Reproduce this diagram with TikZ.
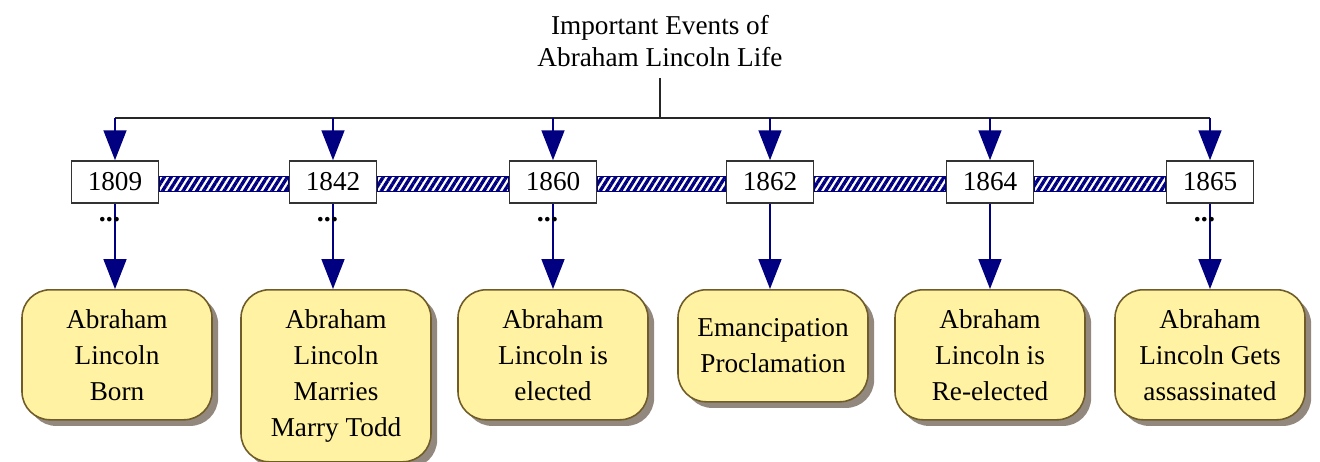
\documentclass[tikz,border=0pt]{standalone}
\usepackage{fontspec}
\setmainfont{Liberation Serif}
\usepackage{xcolor}
\usepackage{tikz}
\usetikzlibrary{arrows.meta,positioning,calc,shadows,patterns.meta}

\definecolor{linknavy}{RGB}{0,0,128}
\definecolor{eventfill}{RGB}{255,242,162}
\definecolor{eventedge}{RGB}{112,92,40}

\begin{document}
\begin{tikzpicture}[
        font=\fontsize{15.5}{20.5}\selectfont,
        yearbox/.style={draw=black!80, fill=white, line width=0.9pt,
            minimum width=1.74cm, minimum height=0.84cm, inner sep=0pt},
        eventbox/.style={draw=eventedge, fill=eventfill, line width=0.9pt,
            rounded corners=16pt, minimum width=3.8cm, anchor=north,
            align=center, inner sep=0pt,
            drop shadow={shadow xshift=3.5pt, shadow yshift=-3.5pt, fill=black!70!brown, opacity=0.55}},
        arr/.style={draw=linknavy, line width=1.1pt, -{Triangle[width=13pt,length=17pt]}},
        hatchbar/.style={draw=linknavy, line width=0.6pt,
            pattern={Lines[angle=58,distance=3.3pt,line width=1.9pt]}, pattern color=linknavy},
        dots/.style={font=\fontsize{16}{20.5}\selectfont\bfseries, anchor=base, inner sep=0pt}
    ]
        \useasboundingbox (0,0) rectangle (26.4,-9.24);

        % Title and bus line
        \node[align=center, font=\fontsize{15.5}{18.5}\selectfont] (title) at (13.2,-0.82)
            {Important Events of\\Abraham Lincoln Life};
        \coordinate (bus) at (13.2,-2.36);
        \coordinate (b1) at (2.30,-2.36);
        \coordinate (b2) at (6.66,-2.36);
        \coordinate (b3) at (11.06,-2.36);
        \coordinate (b4) at (15.40,-2.36);
        \coordinate (b5) at (19.80,-2.36);
        \coordinate (b6) at (24.20,-2.36);
        \draw[black!85, line width=1pt] (title.south |- 0,-1.56) -- (bus);
        \draw[black!85, line width=1pt] (b1) -- (b6);

        % Years
        \node[yearbox] (y1) at (2.30,-3.64) {1809};
        \node[yearbox] (y2) at (6.66,-3.64) {1842};
        \node[yearbox] (y3) at (11.06,-3.64) {1860};
        \node[yearbox] (y4) at (15.40,-3.64) {1862};
        \node[yearbox] (y5) at (19.80,-3.64) {1864};
        \node[yearbox] (y6) at (24.20,-3.64) {1865};

        % Hatched time bar
        \foreach \a/\b in {y1/y2,y2/y3,y3/y4,y4/y5,y5/y6}
            \draw[hatchbar] ($(\a.east)+(0,0.11)$) rectangle ($(\b.west)+(0,-0.19)$);

        % Events
        \node[eventbox, minimum height=2.6cm] (e1) at (2.34,-5.78) {Abraham\\Lincoln\\Born};
        \node[eventbox, minimum height=3.44cm] (e2) at (6.72,-5.78) {Abraham\\Lincoln\\Marries\\Marry Todd};
        \node[eventbox, minimum height=2.6cm] (e3) at (11.06,-5.78) {Abraham\\Lincoln is\\elected};
        \node[eventbox, minimum height=2.24cm] (e4) at (15.46,-5.78) {Emancipation\\Proclamation};
        \node[eventbox, minimum height=2.6cm] (e5) at (19.80,-5.78) {Abraham\\Lincoln is\\Re-elected};
        \node[eventbox, minimum height=2.6cm] (e6) at (24.20,-5.78) {Abraham\\Lincoln Gets\\assassinated};

        % Connectors
        \foreach \i in {1,...,6} {
            \draw[arr] (b\i) -- (y\i.north);
            \draw[arr] (y\i.south) -- (y\i.south |- e\i.north);
        }

        % Collapsed markers
        \node[dots] (d1) at (2.19,-4.42) {...};
        \node[dots] (d2) at (6.55,-4.42) {...};
        \node[dots] (d3) at (10.95,-4.42) {...};
        \node[dots] (d6) at (24.09,-4.42) {...};
    \end{tikzpicture}
\end{document}
